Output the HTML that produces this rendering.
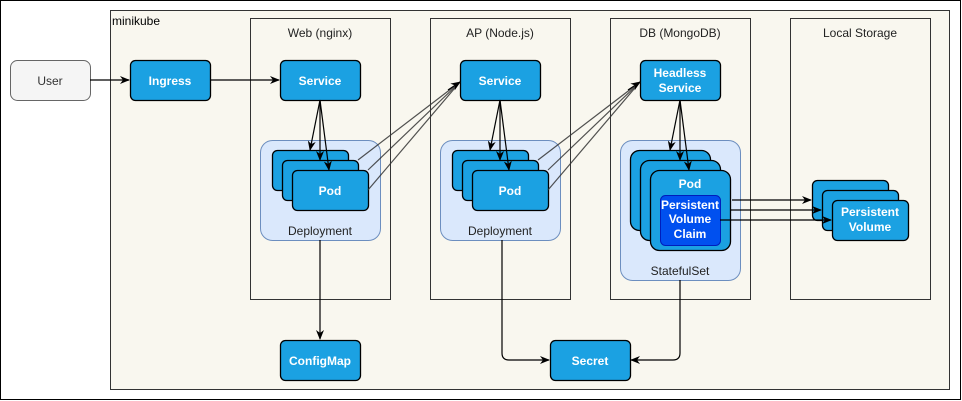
<!DOCTYPE html>
<html><head><meta charset="utf-8"><style>
html,body{margin:0;padding:0;background:#fff;}
svg{display:block;font-family:"Liberation Sans",Arial,sans-serif;}
.b{fill:#1ba1e2;stroke:#000;stroke-width:1.3;}
.t{fill:#fff;font-weight:bold;font-size:12px;text-anchor:middle;}
.l{fill:#222;font-size:12px;text-anchor:middle;}
.ln{stroke:#000;stroke-width:1.2;fill:none;}
.dl{stroke:#333;stroke-width:1.2;fill:none;opacity:.85;}
</style></head><body>
<svg width="962" height="401" viewBox="0 0 962 401">
<defs><marker id="a" markerWidth="10" markerHeight="10" refX="9" refY="5" orient="auto" markerUnits="userSpaceOnUse"><path d="M0,1 L10,5 L0,9 L3,5z" fill="#000"/></marker></defs>
<rect x="0.5" y="0.5" width="960" height="399" fill="#fff" stroke="#000"/>
<rect x="110.5" y="10.5" width="839" height="379" fill="#f9f7ef" stroke="#333"/>
<text x="112" y="25" font-size="12" fill="#000">minikube</text>
<g fill="none" stroke="#333">
<rect x="250.5" y="18.5" width="140" height="281"/>
<rect x="430.5" y="18.5" width="140" height="281"/>
<rect x="610.5" y="18.5" width="140" height="281"/>
<rect x="790.5" y="18.5" width="140" height="281"/>
</g>
<text class="l" x="320" y="37">Web (nginx)</text>
<text class="l" x="500" y="37">AP (Node.js)</text>
<text class="l" x="680" y="37">DB (MongoDB)</text>
<text class="l" x="860" y="37">Local Storage</text>
<rect x="10.5" y="60.5" width="80" height="40" rx="7" fill="#f5f5f5" stroke="#666"/>
<text x="50" y="85" font-size="12" fill="#333" text-anchor="middle">User</text>
<rect class="b" x="130.5" y="60.5" width="80" height="40" rx="5"/><text class="t" x="170" y="85">Ingress</text>
<rect class="b" x="280.5" y="60.5" width="80" height="40" rx="5"/><text class="t" x="320" y="85">Service</text>
<rect class="b" x="460.5" y="60.5" width="80" height="40" rx="5"/><text class="t" x="500" y="85">Service</text>
<rect class="b" x="640.5" y="60.5" width="80" height="40" rx="5"/><text class="t" x="680" y="77">Headless</text><text class="t" x="680" y="92">Service</text>
<path class="ln" d="M90,80 H129" marker-end="url(#a)"/>
<path class="ln" d="M210,80 H279" marker-end="url(#a)"/>
<!-- deployments -->
<g fill="#dae8fc" stroke="#6c8ebf">
<rect x="260.5" y="140.5" width="120" height="100" rx="12"/>
<rect x="440.5" y="140.5" width="120" height="100" rx="12"/>
<rect x="620.5" y="140.5" width="120" height="140" rx="12"/>
</g>
<text class="l" x="320" y="235">Deployment</text>
<text class="l" x="500" y="235">Deployment</text>
<text class="l" x="680" y="275">StatefulSet</text>
<rect class="b" x="272.5" y="150.5" width="76" height="40" rx="5"/>
<rect class="b" x="282.5" y="160.5" width="76" height="40" rx="5"/>
<rect class="b" x="292.5" y="170.5" width="76" height="40" rx="5"/><text class="t" x="330" y="195">Pod</text>
<rect class="b" x="452.5" y="150.5" width="76" height="40" rx="5"/>
<rect class="b" x="462.5" y="160.5" width="76" height="40" rx="5"/>
<rect class="b" x="472.5" y="170.5" width="76" height="40" rx="5"/><text class="t" x="510" y="195">Pod</text>
<rect class="b" x="630.5" y="150.5" width="80" height="80" rx="9"/>
<rect class="b" x="640.5" y="160.5" width="80" height="80" rx="9"/>
<rect class="b" x="650.5" y="170.5" width="80" height="80" rx="9"/><text class="t" x="690" y="188">Pod</text>
<rect x="660.5" y="195.5" width="60" height="50" rx="5" fill="#0050ef" stroke="#001dbc"/>
<text class="t" x="690" y="209">Persistent</text><text class="t" x="690" y="223">Volume</text><text class="t" x="690" y="238">Claim</text>
<rect class="b" x="812.5" y="180.5" width="76" height="40" rx="5"/>
<rect class="b" x="822.5" y="190.5" width="76" height="40" rx="5"/>
<rect class="b" x="832.5" y="200.5" width="76" height="40" rx="5"/><text class="t" x="870" y="216">Persistent</text><text class="t" x="870" y="231">Volume</text>
<!-- service->pod arrows -->
<path class="ln" d="M320,100 L310,150" marker-end="url(#a)"/>
<path class="ln" d="M320,100 L320,160" marker-end="url(#a)"/>
<path class="ln" d="M320,100 L329,170" marker-end="url(#a)"/>
<path class="ln" d="M500,100 L490,150" marker-end="url(#a)"/>
<path class="ln" d="M500,100 L500,160" marker-end="url(#a)"/>
<path class="ln" d="M500,100 L509,170" marker-end="url(#a)"/>
<path class="ln" d="M680,100 L670,150" marker-end="url(#a)"/>
<path class="ln" d="M680,100 L680,160" marker-end="url(#a)"/>
<path class="ln" d="M680,100 L689,170" marker-end="url(#a)"/>
<!-- pod->service -->
<path class="dl" d="M358,160 L460,82"/><path class="dl" d="M368,170 L460,82"/><path class="dl" d="M368,190 L460,82"/>
<path class="ln" d="M448,90 L460,82" marker-end="url(#a)"/>
<path class="dl" d="M538,160 L640,82"/><path class="dl" d="M548,170 L640,82"/><path class="dl" d="M548,190 L640,82"/>
<path class="ln" d="M628,90 L640,82" marker-end="url(#a)"/>
<!-- PVC->PV -->
<path class="ln" d="M732,200 H811" marker-end="url(#a)"/>
<path class="ln" d="M730,210 H821" marker-end="url(#a)"/>
<path class="ln" d="M720,220 H831" marker-end="url(#a)"/>
<!-- bottom -->
<rect class="b" x="280.5" y="340.5" width="80" height="40" rx="5"/><text class="t" x="320" y="365">ConfigMap</text>
<rect class="b" x="550.5" y="340.5" width="80" height="40" rx="5"/><text class="t" x="590" y="365">Secret</text>
<path class="ln" d="M320,240 V339" marker-end="url(#a)"/>
<path class="ln" d="M502,240 V353 Q502,360 509,360 H549" marker-end="url(#a)"/>
<path class="ln" d="M680,280 V353 Q680,360 673,360 H631" marker-end="url(#a)"/>
</svg>
</body></html>
